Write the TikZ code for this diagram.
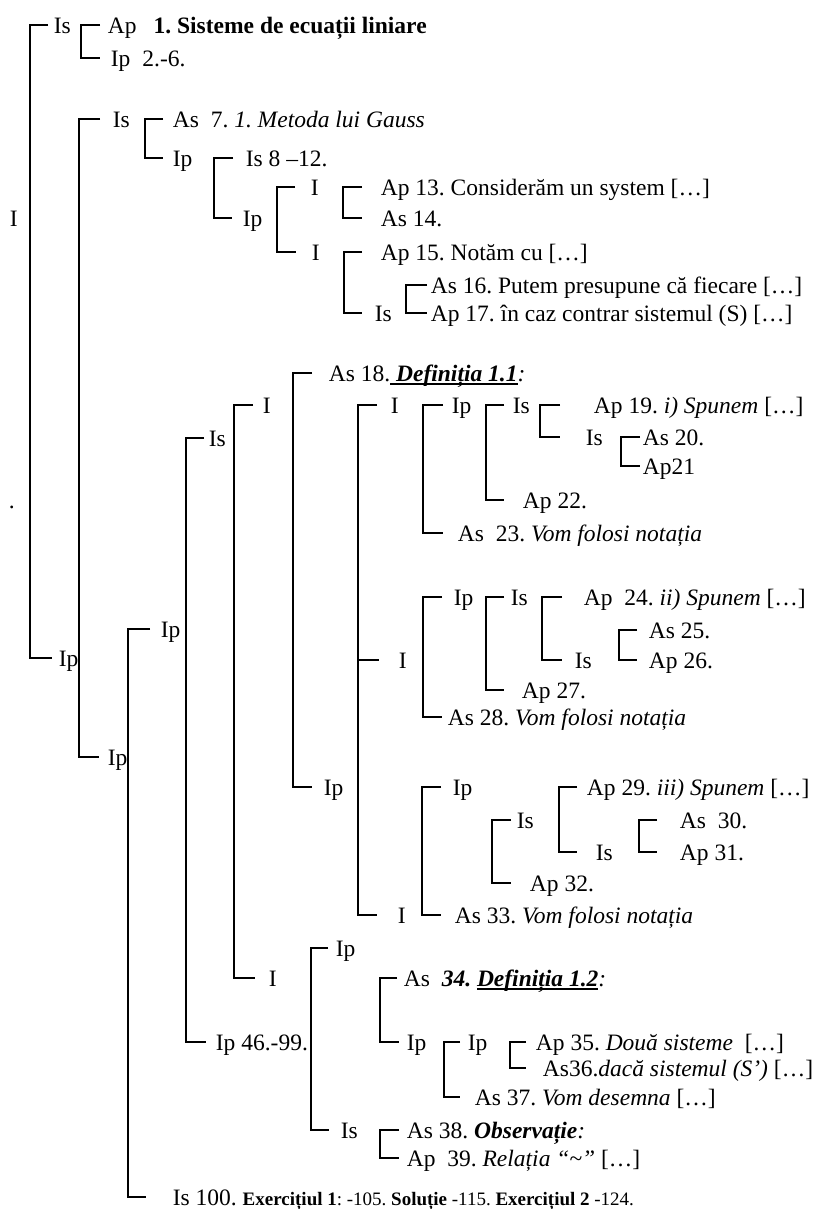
\documentclass[tikz,border=0pt]{standalone}
\usepackage{fontspec}
\setmainfont{Liberation Serif}
\frenchspacing
% thick underline used for the definition titles
\newcommand\thickul[1]{\setbox0\hbox{#1}\rlap{\rule[-3.5pt]{\wd0}{1.6pt}}\box0}
% bracket: spine x, top node, top gap, bottom node, bottom gap
\newcommand\brk[5]{%
  \coordinate (sp) at (#1,0);
  \draw ([xshift=-#3pt]#2.west) -- (#2.west -| sp) -- (#4.west -| sp) -- ([xshift=-#5pt]#4.west);}
\begin{document}
\begin{tikzpicture}[x=1pt,y=-1pt,line width=1.8pt,line join=miter,
  txt/.style={anchor=west,inner sep=0pt,text height=17pt,text depth=0pt},
  font=\fontsize{23.5}{28}\selectfont]
\useasboundingbox (0,0) rectangle (812,1209);

% ---- upper part
\node[txt] (lI) at (9,218) {I};
\node[txt] (ldot) at (8,500) {.};
\node[txt] (nIsA) at (53,25) {Is};
\node[txt] (nIpL) at (58,658) {Ip};
\node[txt] (nAp1) at (107,25) {Ap\hspace{17pt}\textbf{1. Sisteme de ecuații liniare}};
\node[txt] (nIp26) at (110,58) {Ip\hspace{12pt}2.-6.};
\node[txt] (nIsB) at (112,119) {Is};
\node[txt] (nIpB) at (107,757) {Ip};
\node[txt] (nAs7) at (172,119) {As~~7. \textit{1. Metoda lui Gauss}};
\node[txt] (nIp8) at (172,158) {Ip};
\node[txt] (nIs8) at (245,158) {Is 8 –12.};
\node[txt] (nIp14) at (242,218) {Ip};
\node[txt] (nI13) at (310,187) {I};
\node[txt] (nI15) at (311,252) {I};
\node[txt] (nAp13) at (380,187) {Ap 13. Considerăm un system […]};
\node[txt] (nAs14) at (380,218) {As 14.};
\node[txt] (nAp15) at (380,252) {Ap 15. Notăm cu […]};
\node[txt] (nIs17) at (374,313) {Is};
\node[txt] (nAs16) at (430,285) {As 16. Putem presupune că fiecare […]};
\node[txt] (nAp17) at (430,313) {Ap 17. în caz contrar sistemul (S) […]};

\brk{30}{nIsA}{5}{nIpL}{6}
\brk{81}{nAp1}{7}{nIp26}{10}
\brk{79}{nIsB}{12}{nIpB}{8}
\brk{145}{nAs7}{9}{nIp8}{9}
\brk{214}{nIs8}{12}{nIp14}{10}
\brk{277}{nI13}{15}{nI15}{15}
\brk{343}{nAp13}{18}{nAs14}{18}
\brk{344}{nAp15}{18}{nIs17}{12}
\brk{406}{nAs16}{3}{nAp17}{3}

% ---- middle part
\node[txt] (nIpC) at (160,629) {Ip};
\node[txt] (nIs100) at (172,1197) {Is 100. {\fontsize{19}{23}\selectfont\textbf{Exercițiul 1}: -105. \textbf{Soluție} -115. \textbf{Exercițiul 2} -124.}};
\node[txt] (nIsD) at (208,438) {Is};
\node[txt] (nIp46) at (215,1042) {Ip 46.-99.};
\node[txt] (nIE) at (262,405) {I};
\node[txt] (nIF) at (268,978) {I};
\node[txt] (nAs18) at (328,373) {As 18.\thickul{\ \textbf{\textit{Definiția 1.1}}}\textit{:}};
\node[txt] (nIpG) at (323,787) {Ip};
\node[txt] (nIH) at (390,405) {I};
\node[txt] (nIJ) at (398,660) {I};
\node[txt] (nIK) at (397,915) {I};

% first group
\node[txt] (nIp19) at (451,405) {Ip};
\node[txt] (nAs23) at (457,533) {As~~23. \textit{Vom folosi notația}};
\node[txt] (nIs19) at (512,405) {Is};
\node[txt] (nAp22) at (522,500) {Ap 22.};
\node[txt] (nAp19) at (593,405) {Ap 19. \textit{i) Spunem} […]};
\node[txt] (nIs20) at (585,437) {Is};
\node[txt] (nAs20) at (642,437) {As 20.};
\node[txt] (nAp21) at (642,466) {Ap21};

% second group
\node[txt] (nIp24) at (453,597) {Ip};
\node[txt] (nAs28) at (447,717) {As 28. \textit{Vom folosi notația}};
\node[txt] (nIs24) at (510,597) {Is};
\node[txt] (nAp27) at (521,690) {Ap 27.};
\node[txt] (nAp24) at (583,597) {Ap~~24. \textit{ii) Spunem} […]};
\node[txt] (nIs26) at (574,660) {Is};
\node[txt] (nAs25) at (648,630) {As 25.};
\node[txt] (nAp26) at (648,660) {Ap 26.};

% third group
\node[txt] (nIp29) at (452,787) {Ip};
\node[txt] (nAs33) at (454,915) {As 33. \textit{Vom folosi notația}};
\node[txt] (nIs30) at (516,820) {Is};
\node[txt] (nAp32) at (529,883) {Ap 32.};
\node[txt] (nAp29) at (586,787) {Ap 29. \textit{iii) Spunem} […]};
\node[txt] (nIs31) at (595,852) {Is};
\node[txt] (nAs30) at (679,820) {As~~30.};
\node[txt] (nAp31) at (679,852) {Ap 31.};

% lower part
\node[txt] (nIpM) at (335,948) {Ip};
\node[txt] (nIs38) at (340,1130) {Is};
\node[txt] (nAs34) at (403,978) {As~~\textbf{\textit{34. \thickul{Definiția 1.2}}}\textit{:}};
\node[txt] (nIp35) at (406,1042) {Ip};
\node[txt] (nIp35b) at (467,1042) {Ip};
\node[txt] (nAs37) at (474,1097) {As 37. \textit{Vom desemna} […]};
\node[txt] (nAp35) at (535,1042) {Ap 35. \textit{Două sisteme}~~[…]};
\node[txt] (nAs36) at (542,1068) {As36.\textit{dacă sistemul (S')} […]};
\node[txt] (nAs38) at (406,1130) {As 38. \textbf{\textit{Observație}}\textit{:}};
\node[txt] (nAp39) at (406,1158) {Ap~~39. \textit{Relația “\textasciitilde”} […]};

\brk{128}{nIpC}{10}{nIs100}{26}
\brk{186}{nIsD}{4}{nIp46}{9}
\brk{234}{nIE}{9}{nIF}{13}
\brk{293}{nAs18}{16}{nIpG}{11}
\brk{358}{nIH}{13}{nIK}{20}
\coordinate (spI) at (358,0);
\draw (nIJ.west -| spI) -- ([xshift=-19pt]nIJ.west);
\brk{423}{nIp19}{8}{nAs23}{14}
\brk{486}{nIs19}{8}{nAp22}{18}
\brk{540}{nAp19}{33}{nIs20}{25}
\brk{621}{nAs20}{2}{nAp21}{2}
\brk{423}{nIp24}{11}{nAs28}{5}
\brk{486}{nIs24}{6}{nAp27}{17}
\brk{542}{nAp24}{21}{nIs26}{12}
\brk{619}{nAs25}{11}{nAp26}{11}
\brk{422}{nIp29}{11}{nAs33}{13}
\brk{492}{nIs30}{5}{nAp32}{18}
\brk{559}{nAp29}{9}{nIs31}{18}
\brk{639}{nAs30}{22}{nAp31}{22}
\brk{311}{nIpM}{7}{nIs38}{11}
\brk{380}{nAs34}{6}{nIp35}{7}
\brk{444}{nIp35b}{7}{nAs37}{14}
\brk{510}{nAp35}{9}{nAs36}{16}
\brk{380}{nAs38}{7}{nAp39}{7}
\end{tikzpicture}
\end{document}
